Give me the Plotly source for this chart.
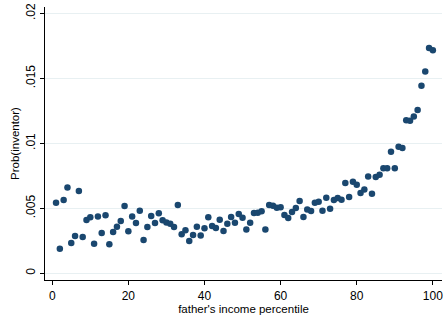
import plotly.graph_objects as go

percentile = list(range(1, 101))
# Prob(inventor) in units of 1/1000
prob_per_thousand = [
    5.43, 1.89, 5.64, 6.60, 2.33, 2.87, 6.33, 2.79, 4.10, 4.31,
    2.28, 4.38, 3.10, 4.46, 2.23, 3.18, 3.59, 4.02, 5.18, 3.23,
    4.38, 3.87, 4.82, 2.56, 3.56, 4.41, 3.87, 4.62, 4.08, 3.92,
    3.82, 3.56, 5.25, 3.00, 3.31, 2.48, 2.95, 3.59, 2.92, 3.46,
    4.31, 3.64, 3.48, 4.12, 3.25, 3.82, 4.33, 3.90, 4.56, 4.28,
    3.38, 3.90, 4.64, 4.66, 4.77, 3.38, 5.25, 5.20, 5.05, 5.08,
    4.48, 4.25, 4.72, 5.02, 5.56, 4.33, 4.92, 4.79, 5.43, 5.51,
    4.82, 5.82, 4.97, 5.64, 5.79, 5.66, 6.95, 5.87, 7.05, 6.82,
    6.18, 6.46, 7.46, 6.12, 7.41, 7.59, 8.08, 8.08, 9.35, 8.08,
    9.74, 9.64, 11.79, 11.74, 12.08, 12.58, 14.43, 15.54, 17.35, 17.18,
]
prob = [v / 1000 for v in prob_per_thousand]

x_ticks = [0, 20, 40, 60, 80, 100]
y_ticks = [0, 0.005, 0.01, 0.015, 0.02]
y_tick_labels = ["0", ".005", ".01", ".015", ".02"]

fig = go.Figure()
fig.add_trace(go.Scatter(
    x=percentile, y=prob, mode="markers",
    marker=dict(color="#1a476f", size=6.5, line=dict(width=0)),
    showlegend=False,
))

font = dict(family="Liberation Sans, Arial, sans-serif", color="#000000")

fig.update_layout(
    width=445, height=316,
    margin=dict(l=44.5, r=3, t=7, b=36),
    paper_bgcolor="white", plot_bgcolor="white",
    font=dict(size=12, **font),
    xaxis=dict(
        range=[-1.9, 102.4], tickvals=x_ticks,
        ticks="outside", ticklen=4, tickcolor="#000", tickwidth=1,
        showline=True, linecolor="#000", linewidth=1.2,
        showgrid=False, zeroline=False,
        tickfont=dict(size=12, **font),
        title=dict(text="father's income percentile", font=dict(size=11.5, **font), standoff=3),
    ),
    yaxis=dict(
        range=[-0.000515, 0.0205], tickvals=y_ticks, ticktext=y_tick_labels,
        tickangle=-90,
        ticks="outside", ticklen=4, tickcolor="#000", tickwidth=1,
        showline=True, linecolor="#000", linewidth=1.2,
        showgrid=True, gridcolor="#e8f0f2", gridwidth=1,
        zeroline=False,
        tickfont=dict(size=12, **font),
        title=dict(text="Prob(inventor)", font=dict(size=11.5, **font), standoff=2),
    ),
)

fig.write_html(
    "out.html",
    config={"displayModeBar": False},
    post_script="document.body.style.margin='0px';",
)
